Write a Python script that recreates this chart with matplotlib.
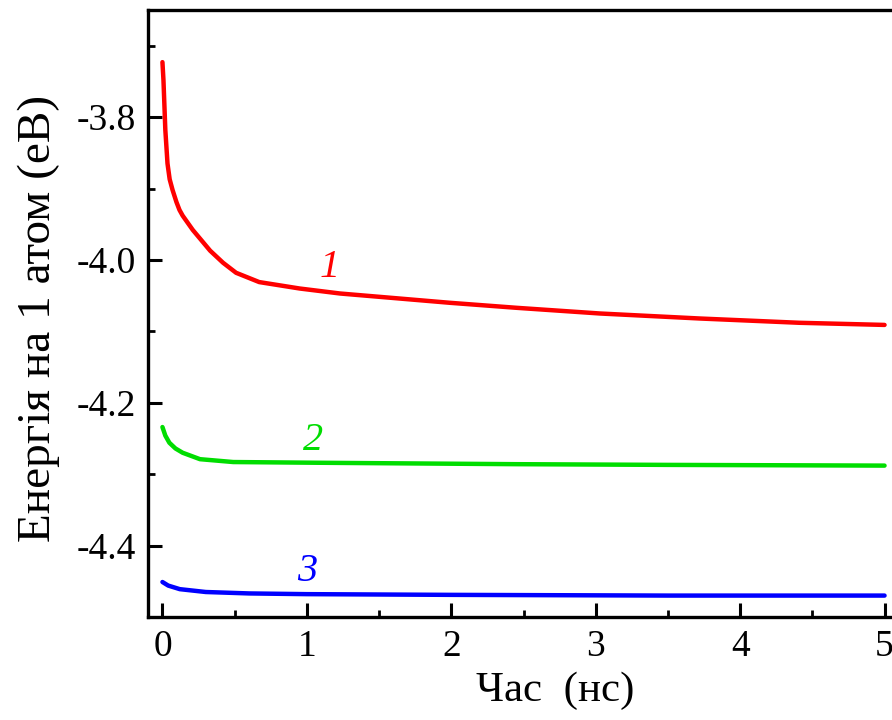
import matplotlib
matplotlib.use('Agg')
import matplotlib.pyplot as plt
from matplotlib.ticker import MultipleLocator, FormatStrFormatter

plt.rcParams['font.family'] = ['Liberation Serif', 'DejaVu Serif']

# дані кривих (час, нс / енергія, еВ)
red_t = [0.0, 0.007, 0.02, 0.035, 0.05, 0.07, 0.097, 0.118, 0.14, 0.21, 0.33,
         0.42, 0.51, 0.67, 0.95, 1.23, 1.64, 1.99, 2.45, 3.03, 3.72, 4.41, 5.0]
red_e = [-3.723, -3.748, -3.818, -3.865, -3.887, -3.902, -3.919, -3.930, -3.938,
         -3.958, -3.987, -4.004, -4.018, -4.031, -4.040, -4.047, -4.054, -4.060,
         -4.067, -4.075, -4.082, -4.088, -4.091]

green_t = [0.0, 0.02, 0.048, 0.09, 0.14, 0.26, 0.49, 1.07, 2.45, 3.5, 5.0]
green_e = [-4.234, -4.246, -4.256, -4.264, -4.270, -4.279, -4.283, -4.284,
           -4.286, -4.287, -4.288]

blue_t = [0.0, 0.04, 0.12, 0.3, 0.6, 1.0, 2.0, 3.5, 5.0]
blue_e = [-4.451, -4.456, -4.461, -4.465, -4.467, -4.468, -4.469, -4.470, -4.470]

curve_labels = ['1', '2', '3']
label_pos = [(1.16, -4.011), (1.04, -4.253), (1.0, -4.436)]
colors = ['#ff0000', '#00dd00', '#0000ff']

fig = plt.figure(figsize=(8.92, 7.2), dpi=100)
ax = fig.add_axes([148 / 892, 1 - 617 / 720, (899 - 148) / 892, (617 - 10) / 720])

for t, e, c in zip([red_t, green_t, blue_t], [red_e, green_e, blue_e], colors):
    ax.plot(t, e, color=c, lw=3.2, solid_capstyle='round', solid_joinstyle='round')

for lab, (x, y), c in zip(curve_labels, label_pos, colors):
    ax.text(x, y, lab, color=c, fontsize=29, style='italic', ha='center', va='center')

ax.set_xlim(-0.1, 5.1)
ax.set_ylim(-4.5, -3.65)
ax.xaxis.set_major_locator(MultipleLocator(1))
ax.xaxis.set_minor_locator(MultipleLocator(0.5))
ax.yaxis.set_major_locator(MultipleLocator(0.2))
ax.yaxis.set_minor_locator(MultipleLocator(0.1))
ax.yaxis.set_major_formatter(FormatStrFormatter('%.1f'))

ax.tick_params(which='major', direction='in', length=10, width=2.2, labelsize=27, pad=9)
ax.tick_params(which='minor', direction='in', length=5, width=2.0)
ax.tick_params(axis='y', which='both', right=False)
ax.tick_params(axis='x', which='both', top=False)
for s in ax.spines.values():
    s.set_linewidth(2.4)

ax.set_xlabel('Час  (нс)', fontsize=31)
ax.xaxis.set_label_coords((555 - 148) / (899 - 148), -(672 - 617) / (617 - 10))
ax.set_ylabel('Енергія на 1 атом (еВ)', fontsize=34)
ax.yaxis.set_label_coords(-(148 - 60) / (899 - 148), (617 - 318) / (617 - 10))

fig.savefig('out.png', dpi=100)
